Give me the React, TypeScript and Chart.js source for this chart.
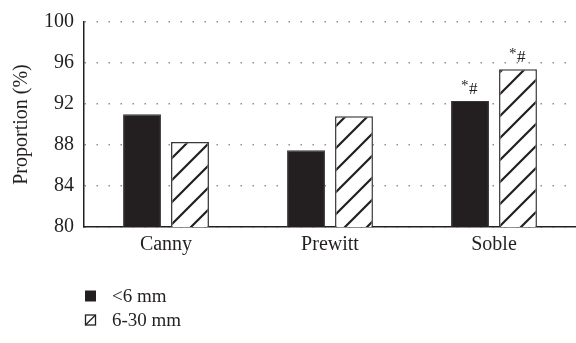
import React, { useEffect, useRef } from "react";
import { Chart, registerables } from "chart.js";

Chart.register(...registerables);

const categories = ["Canny", "Prewitt", "Soble"];
const smallValues = [91.0, 87.5, 92.3];
const largeValues = [88.3, 90.8, 95.4];
const seriesLabels = ["<6 mm", "6-30 mm"];
const smallMarks = ["", "", "*#"];
const largeMarks = ["", "", "*#"];
const yTicks = [80, 84, 88, 92, 96, 100];

const INK = "#231f20";
const FONT = "'Liberation Serif', 'DejaVu Serif', serif";

function makeHatch(ctx: CanvasRenderingContext2D): CanvasPattern | string {
  const s = 22;
  const c = document.createElement("canvas");
  c.width = s;
  c.height = s;
  const g = c.getContext("2d");
  if (!g) return "#fff";
  g.fillStyle = "#fff";
  g.fillRect(0, 0, s, s);
  g.strokeStyle = INK;
  g.lineWidth = 2.2;
  g.beginPath();
  g.moveTo(-2, s + 2);
  g.lineTo(s + 2, -2);
  g.moveTo(-2, 2);
  g.lineTo(2, -2);
  g.moveTo(s - 2, s + 2);
  g.lineTo(s + 2, s - 2);
  g.stroke();
  return ctx.createPattern(c, "repeat") || "#fff";
}

const markPlugin = {
  id: "starMarks",
  afterDatasetsDraw(chart: any) {
    const ctx = chart.ctx;
    const marks = [smallMarks, largeMarks];
    ctx.save();
    ctx.fillStyle = INK;
    ctx.textBaseline = "alphabetic";
    marks.forEach((list, di) => {
      const meta = chart.getDatasetMeta(di);
      meta.data.forEach((bar: any, i: number) => {
        if (!list[i]) return;
        ctx.font = `15px ${FONT}`;
        const wStar = ctx.measureText("*").width;
        ctx.font = `17px ${FONT}`;
        const wHash = ctx.measureText("#").width;
        const total = wStar + wHash;
        const x0 = bar.x - total / 2 - 1;
        ctx.font = `15px ${FONT}`;
        ctx.textAlign = "left";
        ctx.fillText("*", x0, bar.y - 11);
        ctx.font = `17px ${FONT}`;
        ctx.fillText("#", x0 + wStar + 0.5, bar.y - 7);
      });
    });
    ctx.restore();
  },
};

const legendPlugin = {
  id: "stackLegend",
  afterDraw(chart: any) {
    const ctx = chart.ctx;
    const x = 85;
    const rows = [296, 320];
    ctx.save();
    ctx.font = `19px ${FONT}`;
    ctx.fillStyle = INK;
    ctx.textBaseline = "middle";
    ctx.textAlign = "left";
    // filled square
    ctx.fillRect(x, rows[0] - 5.5, 11, 11);
    ctx.fillText(seriesLabels[0], 112, rows[0] + 1);
    // hatched square
    ctx.strokeStyle = INK;
    ctx.lineWidth = 1.3;
    ctx.strokeRect(x + 0.5, rows[1] - 5, 10, 10);
    ctx.beginPath();
    ctx.moveTo(x + 0.5, rows[1] + 5);
    ctx.lineTo(x + 10.5, rows[1] - 5);
    ctx.stroke();
    ctx.fillText(seriesLabels[1], 112, rows[1] + 1);
    ctx.restore();
  },
};

export default function App() {
  const ref = useRef<HTMLCanvasElement | null>(null);

  useEffect(() => {
    const canvas = ref.current;
    if (!canvas) return;
    const ctx = canvas.getContext("2d");
    if (!ctx) return;
    const hatch = makeHatch(ctx);

    const chart = new Chart(ctx, {
      type: "bar",
      data: {
        labels: categories,
        datasets: [
          {
            label: seriesLabels[0],
            data: smallValues,
            backgroundColor: INK,
            borderColor: "#3a3637",
            borderWidth: 1,
          },
          {
            label: seriesLabels[1],
            data: largeValues,
            backgroundColor: hatch as any,
            borderColor: "#3a3637",
            borderWidth: 1.5,
          },
        ],
      },
      options: {
        animation: false,
        responsive: false,
        maintainAspectRatio: false,
        layout: { padding: { top: 11, right: 0, bottom: 80, left: 0 } },
        datasets: {
          bar: { categoryPercentage: 0.585, barPercentage: 0.79 },
        },
        plugins: {
          legend: { display: false },
          tooltip: { enabled: false },
        },
        scales: {
          x: {
            grid: { display: false, drawTicks: false },
            border: { display: true, color: INK, width: 1.5 },
            ticks: {
              color: INK,
              padding: 6,
              font: { family: FONT, size: 20 },
            },
          },
          y: {
            min: 80,
            max: 100,
            afterBuildTicks(scale: any) {
              scale.ticks = yTicks.map((v) => ({ value: v }));
            },
            afterFit(scale: any) {
              scale.width = 84;
            },
            grid: {
              color: "#8f8f8f",
              lineWidth: 1.4,
              drawTicks: false,
            },
            border: { display: true, color: INK, width: 1.5, dash: [1.5, 10.5] } as any,
            ticks: {
              color: INK,
              padding: 10,
              font: { family: FONT, size: 20 },
            },
            title: {
              display: true,
              text: "Proportion (%)",
              color: INK,
              font: { family: FONT, size: 20 },
              padding: { top: 10, bottom: 0 },
            },
          },
        },
      },
      plugins: [markPlugin, legendPlugin],
    });

    return () => chart.destroy();
  }, []);

  return (
    <div style={{ position: "absolute", left: 0, top: 0, width: 576, height: 343, background: "#fff" }}>
      <canvas ref={ref} width={576} height={343} style={{ display: "block" }} />
    </div>
  );
}
